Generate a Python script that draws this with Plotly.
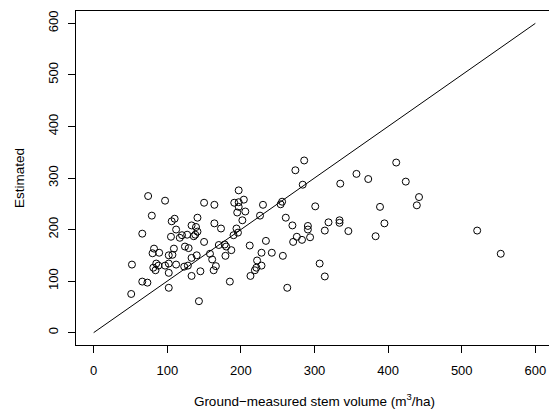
import plotly.graph_objects as go

ground = [74, 97, 79, 66, 106, 110, 112, 105, 117, 120, 127, 133, 141, 139, 141, 136, 138, 150, 150,
          82, 89, 80, 109, 102, 107, 124, 129, 140, 52, 85, 88, 81, 84, 97, 102, 112, 123, 128, 133,
          102, 133, 145, 66, 73, 102, 51, 143,
          197, 204, 191, 197, 197, 206, 195, 230, 226, 164, 202, 164, 173, 194, 196, 190, 170, 178,
          180, 187, 179, 212, 234, 228, 242, 222, 228, 221, 219, 213, 158, 161, 166, 163, 185,
          286, 274, 284, 335, 256, 254, 301, 261, 270, 291, 291, 319, 334, 334, 314, 276, 271, 283,
          294, 257, 307, 314, 263,
          411, 357, 373, 424, 442, 439, 389, 346, 395, 383,
          521, 553]
estimated = [265, 256, 227, 192, 216, 221, 200, 186, 184, 189, 190, 208, 223, 205, 196, 187, 190, 252, 176,
             163, 155, 154, 163, 150, 151, 167, 164, 150, 132, 134, 130, 126, 121, 130, 134, 132, 128, 130, 145,
             116, 110, 119, 99, 97, 87, 75, 61,
             276, 258, 252, 253, 244, 235, 233, 248, 227, 248, 218, 212, 202, 202, 194, 189, 170, 171,
             167, 160, 149, 169, 178, 155, 155, 140, 130, 126, 121, 110, 153, 142, 129, 121, 99,
             334, 315, 287, 289, 254, 249, 245, 223, 208, 207, 200, 214, 218, 213, 198, 186, 176, 180,
             185, 149, 134, 109, 87,
             330, 308, 298, 293, 263, 247, 244, 197, 212, 187,
             198, 153]
line_x = [0, 600]
line_y = [0, 600]
ticks = [0, 100, 200, 300, 400, 500, 600]

font = dict(family="Liberation Sans, Arial, sans-serif", size=13, color="black")
title_font = dict(family="Liberation Sans, Arial, sans-serif", size=13.5, color="black")

fig = go.Figure()
fig.add_trace(go.Scatter(x=line_x, y=line_y, mode="lines",
                         line=dict(color="black", width=1), showlegend=False, hoverinfo="skip"))
fig.add_trace(go.Scatter(x=ground, y=estimated, mode="markers",
                         marker=dict(symbol="circle-open", size=7, color="black",
                                     line=dict(width=1, color="black")),
                         showlegend=False))

axis_common = dict(range=[-24, 624], tickvals=ticks, ticks="outside", ticklen=7, tickwidth=1,
                   tickcolor="black", showline=True, linecolor="black", linewidth=1, mirror=True,
                   showgrid=False, zeroline=False, tickfont=font, automargin=False)

# the page body has an 8px default margin, so the figure is sized/offset to compensate
fig.update_layout(
    width=549, height=403,
    margin=dict(l=68, r=4, t=3, b=66),
    paper_bgcolor="white", plot_bgcolor="white",
    font=font,
    xaxis=dict(**axis_common, ticklabelstandoff=6,
               title=dict(text="Ground\u2212measured stem volume (m<sup>3</sup>/ha)", font=title_font, standoff=19)),
    yaxis=dict(**axis_common, tickangle=-90, ticklabelstandoff=5,
               title=dict(text="Estimated", font=title_font, standoff=18)),
)
fig.write_html("out.html")
